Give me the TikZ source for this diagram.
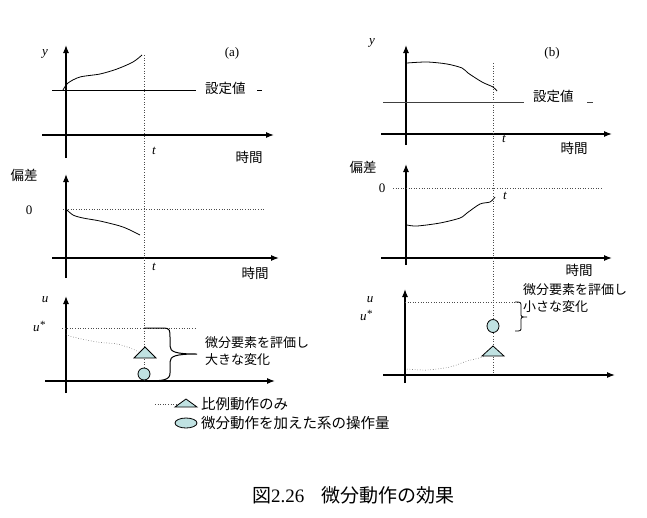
\documentclass[tikz,border=0pt]{standalone}
\usepackage{fontspec}
\setmainfont{Liberation Serif}
\newfontfamily\jp{Noto Sans CJK JP}
\usepackage{tikz}
\usetikzlibrary{arrows.meta,shapes.geometric}
\definecolor{markfill}{RGB}{192,226,226}
\newcommand{\ustar}{u\raisebox{3pt}{\fontsize{11}{11}\selectfont *}}

\begin{document}
\begin{tikzpicture}[x=1pt,y=-1pt,
    axis/.style={line width=1.2pt,-{Latex[length=8pt,width=6pt]}},
    curve/.style={line width=0.8pt},
    guide/.style={line width=0.6pt,dotted,black!70},
    jptext/.style={font=\jp\fontsize{13.5}{15}\selectfont,inner sep=0pt},
    note/.style={font=\jp\fontsize{13}{17}\selectfont,inner sep=0pt,anchor=west,align=left},
    var/.style={font=\itshape\fontsize{13}{15}\selectfont,inner sep=0pt},
    marker/.style={draw=black,line width=0.8pt,fill=markfill}]
    \useasboundingbox (0,0) rectangle (647,517);

    % (a) output
    \draw[axis] (42,135) -- (274,135);
    \draw[axis] (66,158) -- (66,45);
    \draw[line width=1pt] (52,90) -- (196,90);
    \draw[line width=1pt] (257,90) -- (262,90);
    \draw[curve] plot[smooth] coordinates {(63,90) (68,83) (80,77) (100,74) (117,69) (133,62) (142,55)};
    \node[var] (ya) at (45,54) {y};
    \node[font=\fontsize{13}{15}\selectfont] (labela) at (232,53) {(a)};
    \node[jptext,anchor=west] (seta) at (205,88) {設定値};
    \node[var] (ta1) at (154,151) {t};
    \node[jptext] (timea1) at (249,157) {時間};

    % (a) deviation
    \draw[axis] (52,258) -- (279,258);
    \draw[axis] (66,278) -- (66,174);
    \draw[guide] (63,209) -- (265,209);
    \draw[curve] plot[smooth] coordinates {(66,209) (73,215) (83,218) (100,221) (120,226) (130,230) (140,235)};
    \node[jptext] (deva) at (24,175) {偏差};
    \node[font=\fontsize{13}{15}\selectfont] (zeroa) at (29,210) {0};
    \node[var] (ta2) at (154,267) {t};
    \node[jptext] (timea2) at (255,273) {時間};

    % (a) manipulated value
    \draw[axis] (45,381) -- (275,381);
    \draw[axis] (66,393) -- (66,296);
    \draw[guide] (62,328) -- (196,328);
    \draw[guide] (144,55) -- (144,381);
    \draw[guide,line width=0.5pt] plot[smooth] coordinates {(66,334) (73,337) (97,342) (117,344) (130,348) (139,352)};
    \draw[marker] (145,347) -- (156,358) -- (134,358) -- cycle;
    \node[marker,ellipse,minimum width=12pt,minimum height=12pt,inner sep=0pt] (circa) at (144,374) {};
    \draw[line width=1pt] (144,328) -- (164,328) .. controls (170,328) and (170,331) .. (170,337)
      -- (170,346) .. controls (170,352) and (176,354) .. (197,354)
      .. controls (176,354) and (170,356) .. (170,362)
      -- (170,373) .. controls (170,380) and (164,381) .. (144,381);
    \node[var] (ua) at (45,300) {u};
    \node[var] (usa) at (39,326) {\ustar};
    \node[note] (notea) at (205,351) {微分要素を評価し\\大きな変化};

    % (b) output
    \draw[axis] (381,134) -- (612,134);
    \draw[axis] (406,145) -- (406,45);
    \draw[line width=1pt,black!75] (383,102) -- (524,102);
    \draw[line width=1pt,black!75] (587,102) -- (593,102);
    \draw[curve] plot[smooth] coordinates {(407,63) (427,62) (447,64) (462,68) (468,73) (482,82) (493,87) (497,91)};
    \node[var] (yb) at (372,43) {y};
    \node[font=\fontsize{13}{15}\selectfont] (labelb) at (552,53) {(b)};
    \node[jptext,anchor=west] (setb) at (533,96) {設定値};
    \node[var] (tb1) at (504,139) {t};
    \node[jptext] (timeb1) at (574,148) {時間};

    % (b) deviation
    \draw[axis] (381,258) -- (612,258);
    \draw[axis] (406,265) -- (406,164);
    \draw[guide] (393,188) -- (603,188);
    \draw[curve] plot[smooth] coordinates {(407,225) (417,226) (440,223) (460,218) (467,213) (480,204) (490,202) (495,197)};
    \node[jptext] (devb) at (363,167) {偏差};
    \node[font=\fontsize{13}{15}\selectfont] (zerob) at (382,188) {0};
    \node[var] (tb2) at (505,196) {t};
    \node[jptext] (timeb2) at (579,270) {時間};

    % (b) manipulated value
    \draw[axis] (383,375) -- (615,375);
    \draw[axis] (405,383) -- (405,289);
    \draw[guide] (405,302) -- (517,302);
    \draw[guide] (493,63) -- (493,375);
    \draw[guide,line width=0.5pt] plot[smooth] coordinates {(407,369) (427,370) (450,367) (467,361) (483,357) (488,354)};
    \draw[marker] (493,346) -- (504,356) -- (482,356) -- cycle;
    \node[marker,ellipse,minimum width=12pt,minimum height=13pt,inner sep=0pt] (circb) at (493,326) {};
    \draw[line width=0.8pt] (515,302) .. controls (521,302) .. (521,307) -- (521,313)
      .. controls (521,317) .. (527,317) .. controls (521,317) .. (521,321)
      -- (521,327) .. controls (521,331) .. (515,331);
    \node[var] (ub) at (370,300) {u};
    \node[var] (usb) at (366,315) {\ustar};
    \node[note] (noteb) at (523,298) {微分要素を評価し\\小さな変化};

    % legend
    \draw[guide,line width=0.5pt] (155,404) -- (176,404);
    \draw[marker] (186,399) -- (197,407) -- (175,407) -- cycle;
    \node[marker,ellipse,minimum width=22pt,minimum height=10pt,inner sep=0pt] (legcirc) at (186,423) {};
    \node[jptext,anchor=west,font=\jp\fontsize{14.5}{16}\selectfont] (legprop) at (201,404) {比例動作のみ};
    \node[jptext,anchor=west,font=\jp\fontsize{14.5}{16}\selectfont] (legdiff) at (201,423) {微分動作を加えた系の操作量};

    % caption
    \node[anchor=west,inner sep=0pt,font=\fontsize{19}{21}\selectfont] (caption) at (252,495)
      {{\jp 図}2.26\hspace{0.9em}{\jp 微分動作の効果}};
\end{tikzpicture}
\end{document}
